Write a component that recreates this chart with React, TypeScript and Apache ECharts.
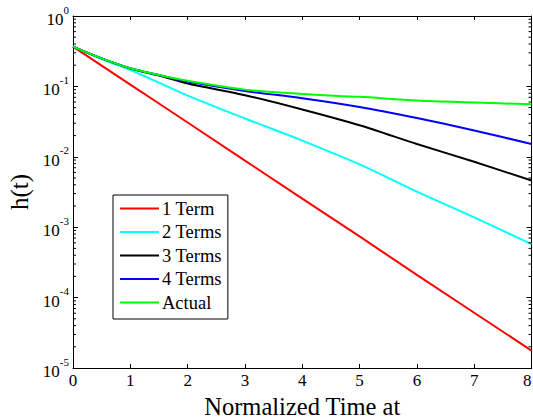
import React, { useEffect, useRef } from 'react';
import * as echarts from 'echarts';

const timeValues = [0, 0.5, 1, 1.5, 2, 3, 4, 5, 6, 7, 8];
const oneTerm = [0.368, 0.197, 0.106, 0.0571, 0.0307, 0.00884, 0.00255, 0.00074, 0.00021, 0.000061, 0.0000177];
const twoTerms = [0.368, 0.245, 0.171, 0.113, 0.074, 0.035, 0.017, 0.0078, 0.0032, 0.00138, 0.000575];
const threeTerms = [0.368, 0.25, 0.18, 0.143, 0.11, 0.075, 0.047, 0.028, 0.0152, 0.0085, 0.0046];
const fourTerms = [0.368, 0.25, 0.181, 0.145, 0.117, 0.086, 0.068, 0.051, 0.0355, 0.0237, 0.0152];
const actual = [0.368, 0.25, 0.181, 0.145, 0.12, 0.09, 0.078, 0.071, 0.063, 0.059, 0.0556];

const seriesNames = ['1 Term', '2 Terms', '3 Terms', '4 Terms', 'Actual'];
const seriesValues = [oneTerm, twoTerms, threeTerms, fourTerms, actual];
const seriesColors = ['#ff0000', '#00ffff', '#000000', '#0000ff', '#00ff00'];

const xMin = 0;
const xMax = 8;
const yMin = 1e-5;
const yMax = 1;
const decadeExponents = [-5, -4, -3, -2, -1];
const minorMantissas = [2, 3, 4, 5, 6, 7, 8, 9];

const SERIF = '"Times New Roman", "Liberation Serif", "DejaVu Serif", serif';

export default function App() {
  const ref = useRef<HTMLDivElement>(null);
  useEffect(() => {
    if (!ref.current) return;
    const chart = echarts.init(ref.current, undefined, { renderer: 'svg' });
    const minorTickValues: number[][] = [];
    decadeExponents.forEach((e) => {
      minorMantissas.forEach((m) => minorTickValues.push([xMin, m * Math.pow(10, e)]));
    });

    const lineSeries = seriesNames.map((name, i) => ({
      name,
      type: 'line',
      xAxisIndex: 0,
      yAxisIndex: 0,
      data: timeValues.map((t, j) => [t, seriesValues[i][j]]),
      symbol: 'none',
      smooth: i === 0 ? false : 0.3,
      lineStyle: { color: seriesColors[i], width: 2 },
      itemStyle: { color: seriesColors[i] },
      z: 3,
    }));

    const axisLine = { show: true, onZero: false, lineStyle: { color: '#000', width: 1 } };
    const txt = (size: number) => ({ fontFamily: SERIF, fontSize: size, color: '#000', fontWeight: 'normal' as const });

    chart.setOption({
      animation: false,
      backgroundColor: '#fff',
      textStyle: { fontFamily: SERIF },
      grid: { left: 73, right: 1.5, top: 16, bottom: 51, containLabel: false, outerBoundsMode: 'none' },
      legend: {
        data: seriesNames,
        orient: 'vertical',
        left: 113,
        top: 195,
        itemWidth: 39,
        itemHeight: 14,
        itemGap: 4.5,
        padding: [4, 6, 7, 7],
        borderColor: '#000',
        borderWidth: 1,
        backgroundColor: '#fff',
        textStyle: { ...txt(18.5), padding: [0, 0, 0, -2] },
        icon: 'path://M0,0 L40,0 L40,2 L0,2 Z',
      },
      xAxis: [
        {
          type: 'value',
          min: xMin,
          max: xMax,
          interval: 1,
          position: 'bottom',
          axisLine,
          axisTick: { show: true, inside: true, length: 4, lineStyle: { color: '#000' } },
          axisLabel: { ...txt(17), margin: 4, alignMaxLabel: 'right' },
          splitLine: { show: false },
          name: 'Normalized Time at',
          nameLocation: 'middle',
          nameGap: 21,
          nameTextStyle: txt(24.5),
        },
        {
          type: 'value',
          min: xMin,
          max: xMax,
          interval: 1,
          position: 'top',
          axisLine,
          axisTick: { show: true, inside: true, length: 4, lineStyle: { color: '#000' } },
          axisLabel: { show: false },
          splitLine: { show: false },
        },
      ],
      yAxis: [
        {
          type: 'log',
          logBase: 10,
          min: yMin,
          max: yMax,
          position: 'left',
          axisLine,
          axisTick: { show: true, inside: true, length: 5, lineStyle: { color: '#000' } },
          axisLabel: {
            margin: 4,
            fontFamily: SERIF,
            formatter: (v: number) => `{b|10}{s|${Math.round(Math.log10(v))}}`,
            rich: {
              b: { ...txt(17), lineHeight: 24, verticalAlign: 'bottom' },
              s: { ...txt(11), lineHeight: 24, verticalAlign: 'top' },
            },
          },
          splitLine: { show: false },
          name: 'h(t)',
          nameLocation: 'middle',
          nameGap: 41,
          nameTextStyle: txt(25),
        },
        {
          type: 'log',
          logBase: 10,
          min: yMin,
          max: yMax,
          position: 'right',
          axisLine,
          axisTick: { show: true, inside: true, length: 5, lineStyle: { color: '#000' } },
          axisLabel: { show: false },
          splitLine: { show: false },
        },
      ],
      series: [
        ...lineSeries,
        {
          type: 'custom',
          name: 'minorTicks',
          xAxisIndex: 0,
          yAxisIndex: 0,
          silent: true,
          clip: false,
          data: minorTickValues,
          renderItem: (_params: any, api: any) => {
            const v = api.value(1);
            const left = api.coord([xMin, v]);
            const right = api.coord([xMax, v]);
            const style = { stroke: '#000', lineWidth: 1 };
            return {
              type: 'group',
              children: [
                { type: 'line', shape: { x1: left[0], y1: left[1], x2: left[0] + 3, y2: left[1] }, style },
                { type: 'line', shape: { x1: right[0], y1: right[1], x2: right[0] - 3, y2: right[1] }, style },
              ],
            };
          },
          z: 4,
        },
      ],
    });
    return () => chart.dispose();
  }, []);
  return <div ref={ref} style={{ position: 'fixed', left: 0, top: 0, width: 533, height: 419 }} />;
}
